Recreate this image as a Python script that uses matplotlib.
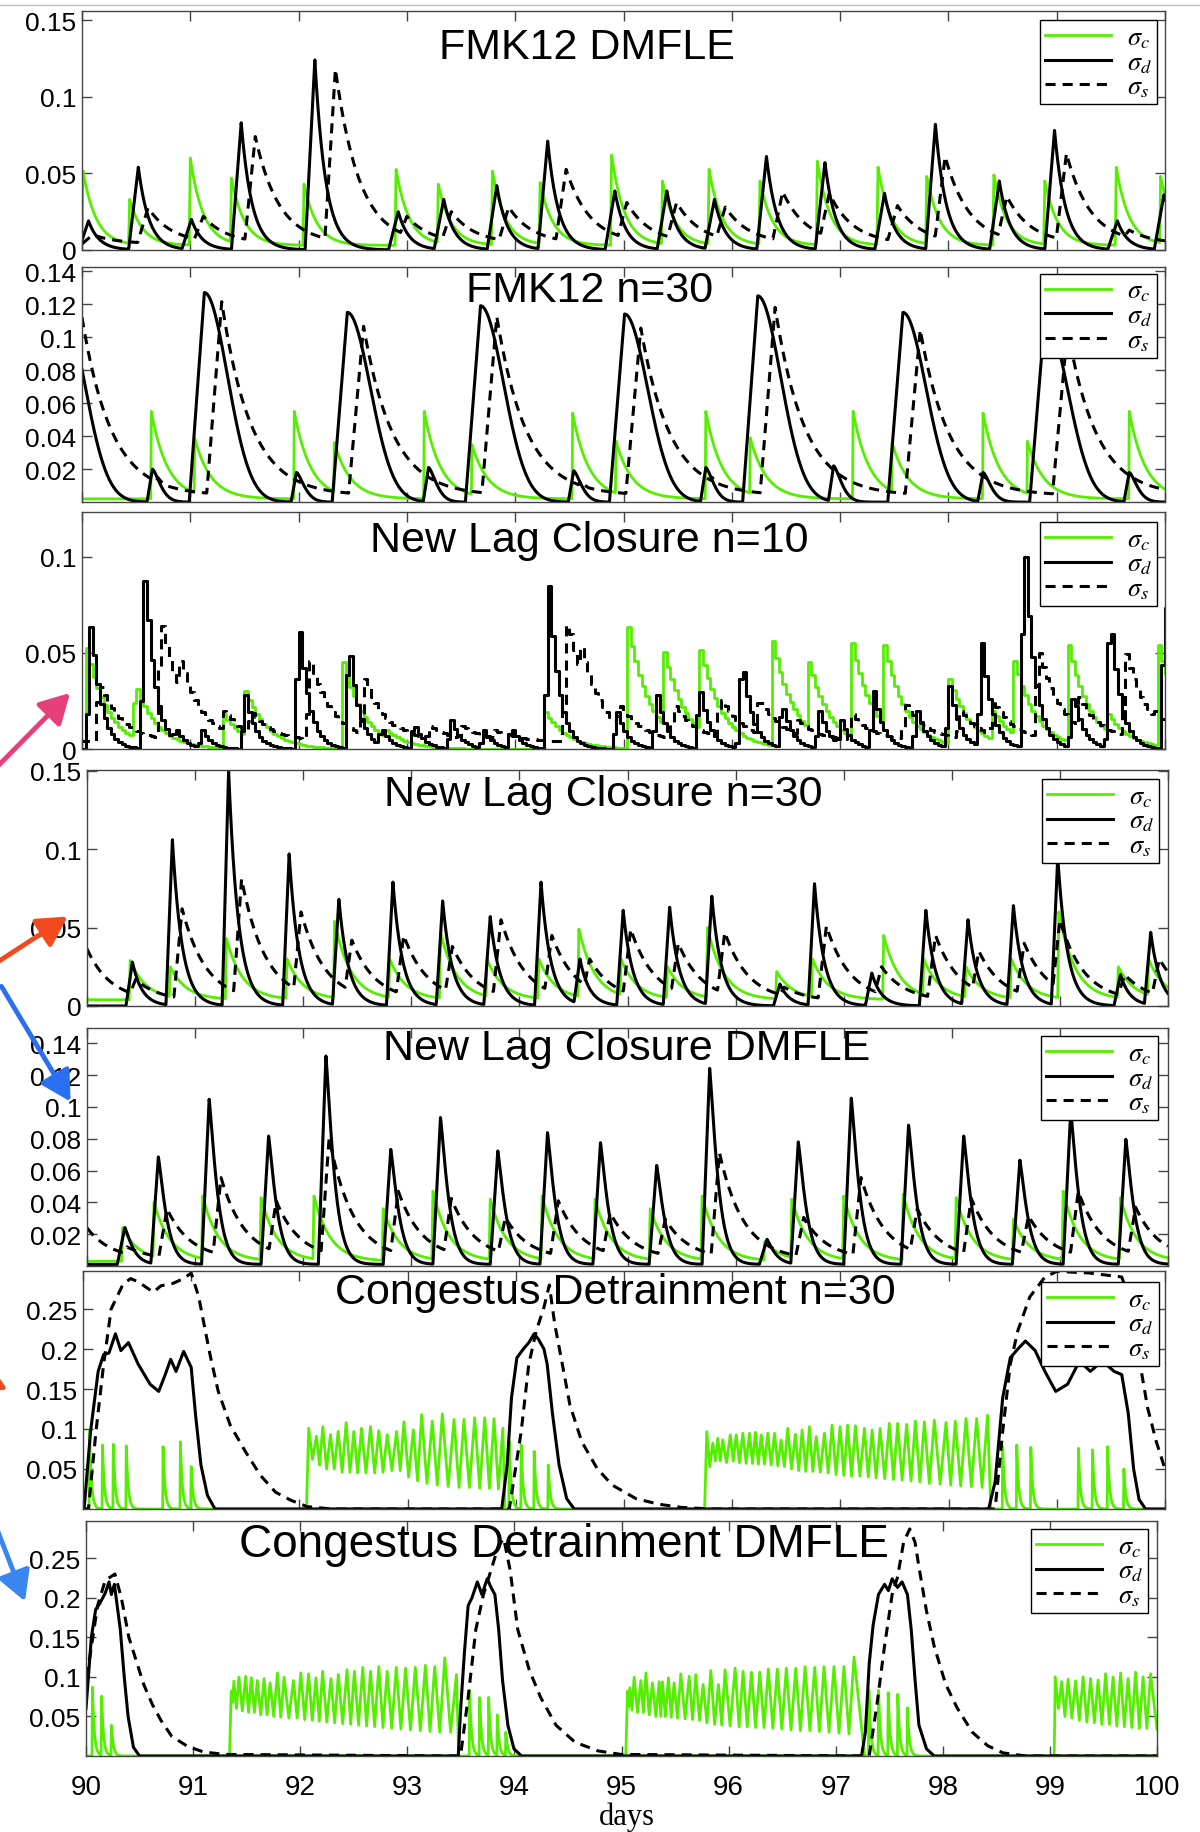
import numpy as np
import matplotlib
matplotlib.use("Agg")
import matplotlib.pyplot as plt
from matplotlib.lines import Line2D
from matplotlib.patches import FancyArrowPatch

plt.rcParams['font.family'] = ['Liberation Sans', 'DejaVu Sans']
plt.rcParams['mathtext.fontset'] = 'stix'

W, H = 1200, 1833
GREEN = '#55ee00'

# ------------------------------------------------------------------
# data (days, sigma values)
# spike panels: peak time + peak height for each series
# ------------------------------------------------------------------
# 1) FMK12 DMFLE
p1_c_t = [90.01, 90.44, 91.0, 91.38, 92.05, 92.9, 93.29, 93.79, 94.23, 94.89,
          95.36, 95.79, 96.26, 96.79, 97.35, 97.8, 98.42, 98.89, 99.55, 99.96]
p1_c_h = [0.0515, 0.033, 0.06, 0.047, 0.043, 0.0526, 0.043, 0.0515, 0.044, 0.062,
          0.045, 0.0526, 0.045, 0.058, 0.054, 0.048, 0.049, 0.045, 0.054, 0.048]
p1_d_t = [90.06, 90.52, 91.01, 91.47, 92.15, 92.92, 93.34, 93.83, 94.3, 94.92,
          95.4, 95.84, 96.32, 96.86, 97.41, 97.88, 98.47, 98.98, 99.56, 99.99]
p1_d_h = [0.019, 0.054, 0.02, 0.083, 0.124, 0.025, 0.033, 0.042, 0.071, 0.0385,
          0.0385, 0.033, 0.061, 0.057, 0.037, 0.082, 0.045, 0.078, 0.019, 0.036]
p1_s_t = [90.1, 90.61, 91.12, 91.6, 92.34, 93.0, 93.41, 93.94, 94.47, 95.03,
          95.49, 95.94, 96.47, 96.9, 97.53, 97.97, 98.54, 99.09, 99.67]
p1_s_h = [0.01, 0.0276, 0.022, 0.074, 0.118, 0.022, 0.025, 0.028, 0.0526, 0.031,
          0.031, 0.028, 0.038, 0.037, 0.029, 0.061, 0.035, 0.063, 0.013]

# 2) FMK12 n=30
p2_c_t = [90.64, 91.04, 91.96, 92.33, 93.16, 93.6, 94.53, 94.93, 95.76, 96.17,
          97.12, 97.48, 98.32, 98.73, 99.67]
p2_c_h = [0.055, 0.039, 0.055, 0.036, 0.055, 0.035, 0.054, 0.037, 0.055, 0.039,
          0.055, 0.036, 0.054, 0.037, 0.055]
p2_d_big_t = [89.81, 91.13, 92.45, 93.68, 95.01, 96.24, 97.58, 98.89]
p2_d_big_h = [0.12, 0.127, 0.115, 0.119, 0.114, 0.125, 0.115, 0.112]
p2_d_small_t = [90.65, 91.98, 93.2, 94.54, 95.76, 96.94, 98.32, 99.67]
p2_d_small_h = [0.02, 0.018, 0.021, 0.019, 0.021, 0.022, 0.018, 0.018]
p2_s_big_t = [90.0, 91.29, 92.6, 93.83, 95.16, 96.4, 97.74, 99.1]
p2_s_big_h = [0.112, 0.1215, 0.1066, 0.1125, 0.1055, 0.118, 0.1045, 0.105]
p2_s_small_t = [90.7, 92.02, 93.25, 94.6, 95.82, 97.0, 98.37, 99.72]
p2_s_small_h = [0.015, 0.013, 0.015, 0.013, 0.015, 0.014, 0.012, 0.013]

# 3) New Lag Closure n=10
p3_c_t = [90.01, 90.47, 91.29, 91.49, 92.38, 92.8, 94.25, 95.02, 95.35, 95.69,
          96.36, 96.68, 97.1, 97.4, 98.0, 98.4, 98.6, 99.1, 99.45, 99.92]
p3_c_h = [0.059, 0.036, 0.019, 0.032, 0.05, 0.01, 0.021, 0.068, 0.055, 0.054,
          0.058, 0.05, 0.055, 0.054, 0.0365, 0.02, 0.046, 0.054, 0.02, 0.058]
p3_d_t = [90.07, 90.57, 90.85, 91.1, 91.5, 91.99, 92.45, 92.75, 93.05, 93.4,
          93.7, 93.95, 94.3, 94.93, 95.3, 95.69, 96.08, 96.45, 96.8, 97.0,
          97.3, 97.7, 98.0, 98.3, 98.69, 99.14, 99.48, 99.99]
p3_d_h = [0.068, 0.094, 0.012, 0.01, 0.028, 0.068, 0.058, 0.012, 0.014, 0.015,
          0.01, 0.012, 0.085, 0.02, 0.028, 0.033, 0.05, 0.025, 0.02, 0.015,
          0.03, 0.02, 0.033, 0.055, 0.112, 0.03, 0.075, 0.082]
p3_s_t = [90.15, 90.72, 90.9, 91.3, 91.55, 92.1, 92.6, 92.9, 93.2, 93.5,
          93.8, 94.47, 94.6, 94.95, 95.46, 95.88, 96.24, 96.6, 97.1, 97.6,
          98.1, 98.4, 98.82, 99.2, 99.63, 99.9]
p3_s_h = [0.035, 0.068, 0.046, 0.02, 0.02, 0.046, 0.0365, 0.012, 0.012, 0.012,
          0.01, 0.069, 0.053, 0.024, 0.023, 0.028, 0.027, 0.015, 0.018, 0.023,
          0.02, 0.025, 0.053, 0.027, 0.05, 0.02]

# 4) New Lag Closure n=30
p4_c_t = [90.4, 90.77, 91.29, 91.85, 92.29, 92.8, 93.27, 93.7, 94.18, 94.55,
          94.94, 95.37, 95.74, 96.38, 96.71, 97.37, 97.74, 98.13, 98.55, 98.99,
          99.54, 99.82]
p4_c_h = [0.029, 0.025, 0.043, 0.03, 0.054, 0.03, 0.047, 0.03, 0.03, 0.049,
          0.03, 0.025, 0.05, 0.022, 0.03, 0.045, 0.03, 0.025, 0.03, 0.06,
          0.025, 0.03]
p4_d_t = [90.42, 90.79, 91.31, 91.87, 92.33, 92.83, 93.29, 93.73, 94.2, 94.56,
          94.96, 95.39, 95.78, 96.41, 96.73, 97.26, 97.76, 98.15, 98.57, 98.98,
          99.56, 99.84]
p4_d_h = [0.028, 0.106, 0.15, 0.097, 0.068, 0.079, 0.067, 0.057, 0.079, 0.03,
          0.061, 0.063, 0.07, 0.014, 0.078, 0.021, 0.061, 0.055, 0.064, 0.095,
          0.02, 0.047]
p4_s_t = [89.95, 90.45, 90.88, 91.43, 91.98, 92.45, 92.93, 93.38, 93.83, 94.3,
          94.65, 95.03, 95.47, 95.9, 96.45, 96.84, 97.35, 97.85, 98.25, 98.67,
          99.0, 99.6, 99.92]
p4_s_h = [0.045, 0.017, 0.062, 0.081, 0.06, 0.042, 0.045, 0.038, 0.055, 0.045,
          0.03, 0.049, 0.04, 0.047, 0.012, 0.051, 0.025, 0.045, 0.035, 0.04,
          0.055, 0.02, 0.03]

# 5) New Lag Closure DMFLE
p5_c_t = [90.33, 90.62, 91.07, 91.61, 92.1, 92.74, 93.2, 93.73, 94.21, 94.7,
          95.21, 95.69, 96.27, 96.52, 97.0, 97.55, 98.04, 98.57, 99.03, 99.56]
p5_c_h = [0.024, 0.04, 0.044, 0.043, 0.044, 0.036, 0.047, 0.042, 0.044, 0.042,
          0.036, 0.044, 0.0155, 0.042, 0.044, 0.045, 0.043, 0.0294, 0.047, 0.043]
p5_d_t = [90.35, 90.66, 91.13, 91.68, 92.21, 92.81, 93.27, 93.8, 94.26, 94.75,
          95.27, 95.76, 96.29, 96.58, 97.07, 97.6, 98.11, 98.63, 99.1, 99.61]
p5_d_h = [0.0242, 0.0686, 0.1048, 0.0817, 0.132, 0.0733, 0.0933, 0.0723, 0.0838, 0.0775,
          0.0632, 0.1242, 0.0168, 0.078, 0.1055, 0.0885, 0.0817, 0.0665, 0.0975, 0.0796]
p5_s_t = [90.0, 90.37, 90.74, 91.24, 91.75, 92.24, 92.88, 93.37, 93.87, 94.36,
          94.84, 95.35, 95.85, 96.35, 96.63, 97.16, 97.68, 98.18, 98.71, 99.17, 99.7]
p5_s_h = [0.024, 0.012, 0.036, 0.0556, 0.041, 0.0806, 0.047, 0.0425, 0.0305, 0.041,
          0.0335, 0.0294, 0.0714, 0.01, 0.0305, 0.0556, 0.036, 0.0425, 0.0315, 0.047, 0.037]

# 6) Congestus Detrainment n=30 : black / dashed as vertices
p6_d_t = [90.0, 90.01, 90.07, 90.14, 90.19, 90.24, 90.3, 90.35, 90.42, 90.51,
          90.62, 90.7, 90.76, 90.81, 90.86, 90.93, 91.0, 91.04, 91.09, 91.15, 91.22,
          93.87, 93.92, 93.96, 94.01, 94.07, 94.12, 94.17, 94.21, 94.26, 94.29,
          94.34, 94.4, 94.47, 94.54,
          98.37, 98.43, 98.5, 98.57, 98.64, 98.71, 98.8, 98.89, 98.99, 99.1,
          99.21, 99.31, 99.42, 99.53, 99.6, 99.66, 99.71, 99.76, 99.82, 100.0]
p6_d_v = [0, 0, 0.097, 0.172, 0.193, 0.195, 0.219, 0.198, 0.208, 0.181,
          0.156, 0.147, 0.168, 0.187, 0.172, 0.197, 0.177, 0.118, 0.055, 0.017, 0.0,
          0.0, 0.055, 0.139, 0.189, 0.2, 0.208, 0.219, 0.212, 0.2, 0.181,
          0.118, 0.055, 0.013, 0.0,
          0.0, 0.034, 0.139, 0.189, 0.2, 0.21, 0.198, 0.172, 0.147, 0.156,
          0.185, 0.172, 0.185, 0.172, 0.168, 0.12, 0.05, 0.012, 0.0, 0.0]
p6_s_t = [90.0, 90.05, 90.12, 90.19, 90.26, 90.37, 90.44, 90.51, 90.65, 90.72,
          90.83, 90.93, 91.0, 91.07, 91.13, 91.18, 91.25, 91.36, 91.5, 91.64,
          91.78, 91.92, 92.07, 92.3,
          93.94, 94.05, 94.12, 94.19, 94.26, 94.31, 94.36, 94.43, 94.5, 94.61,
          94.75, 94.89, 95.11, 95.32, 95.53, 95.8,
          98.43, 98.5, 98.57, 98.64, 98.75, 98.89, 99.0, 99.3, 99.6, 99.7,
          99.77, 99.84, 99.92, 100.0]
p6_s_v = [0.0, 0.0, 0.097, 0.18, 0.25, 0.281, 0.288, 0.284, 0.271, 0.279,
          0.282, 0.288, 0.295, 0.265, 0.223, 0.189, 0.147, 0.105, 0.072, 0.042,
          0.021, 0.011, 0.003, 0.0,
          0.0, 0.097, 0.181, 0.223, 0.252, 0.28, 0.231, 0.181, 0.13, 0.084,
          0.051, 0.03, 0.013, 0.006, 0.002, 0.0,
          0.0, 0.097, 0.181, 0.223, 0.265, 0.29, 0.297, 0.295, 0.29, 0.252,
          0.181, 0.126, 0.084, 0.05]
p6_c_t = [90.06, 90.18, 90.28, 90.4, 90.74, 90.9, 91.0, 93.94, 94.05, 94.17,
          94.3, 98.5, 98.63, 98.76, 99.2, 99.33, 99.47, 99.62]
p6_c_h = [0.098, 0.08, 0.081, 0.079, 0.078, 0.084, 0.053, 0.084, 0.08, 0.072,
          0.055, 0.078, 0.08, 0.077, 0.076, 0.074, 0.078, 0.05]
# oscillating sigma_c stretches: start, end, peak times, peak / trough values
p6_osc1_span = (92.065, 93.9)
p6_osc1_t = [92.086, 92.157, 92.216, 92.287, 92.358, 92.432, 92.503, 92.574, 92.657, 92.734,
             92.812, 92.898, 92.966, 93.053, 93.13, 93.228, 93.321, 93.429, 93.521, 93.62,
             93.713, 93.799, 93.88]
p6_osc1_hi = [0.101, 0.091, 0.103, 0.093, 0.097, 0.108, 0.097, 0.101, 0.103, 0.098,
              0.093, 0.097, 0.109, 0.099, 0.118, 0.11, 0.119, 0.112, 0.112, 0.114,
              0.114, 0.113, 0.101]
p6_osc1_lo = [0.062, 0.055, 0.05, 0.05, 0.046, 0.046, 0.045, 0.045, 0.045, 0.046,
              0.048, 0.048, 0.04, 0.035, 0.032, 0.03, 0.028, 0.027, 0.027, 0.026,
              0.026, 0.025, 0.0]
p6_osc2_span = (95.745, 98.39)
p6_osc2_t = [95.765, 95.821, 95.867, 95.913, 95.982, 96.037, 96.098, 96.16, 96.215, 96.268,
             96.329, 96.391, 96.452, 96.513, 96.584, 96.646, 96.714, 96.776, 96.852, 96.923,
             96.997, 97.067, 97.139, 97.222, 97.293, 97.367, 97.452, 97.529, 97.612, 97.693,
             97.776, 97.868, 97.976, 98.062, 98.161, 98.259, 98.36]
p6_osc2_hi = [0.0967, 0.0823, 0.0885, 0.0864, 0.0926, 0.0926, 0.0947, 0.0947, 0.0959, 0.0926,
              0.0947, 0.0947, 0.0864, 0.1008, 0.0934, 0.0988, 0.1029, 0.0905, 0.0947, 0.1049,
              0.1029, 0.1049, 0.1041, 0.1008, 0.0988, 0.1008, 0.107, 0.107, 0.1058, 0.1099,
              0.109, 0.111, 0.1082, 0.1099, 0.1132, 0.1132, 0.1173]
p6_osc2_lo = [0.053, 0.06, 0.06, 0.058, 0.06, 0.058, 0.057, 0.057, 0.056, 0.056,
              0.055, 0.054, 0.053, 0.05, 0.048, 0.047, 0.047, 0.046, 0.045, 0.043,
              0.042, 0.041, 0.041, 0.04, 0.039, 0.038, 0.037, 0.036, 0.035, 0.034,
              0.032, 0.031, 0.03, 0.029, 0.028, 0.027, 0.0]

# 7) Congestus Detrainment DMFLE
p7_d_t = [90.0, 90.05, 90.09, 90.13, 90.18, 90.215, 90.237, 90.265, 90.32, 90.357,
          90.393, 90.443, 90.5,
          93.476, 93.497, 93.533, 93.568, 93.604, 93.654, 93.697, 93.746, 93.782, 93.818,
          93.853, 93.889, 93.939, 93.996, 94.067,
          97.241, 97.277, 97.313, 97.349, 97.399, 97.456, 97.492, 97.527, 97.577, 97.62,
          97.67, 97.705, 97.741, 97.777, 97.848, 97.92, 100.0]
p7_d_v = [0.06, 0.15, 0.185, 0.193, 0.206, 0.22, 0.204, 0.217, 0.16, 0.1,
          0.05, 0.011, 0.0,
          0.0, 0.057, 0.13, 0.19, 0.2, 0.22, 0.204, 0.224, 0.213, 0.204,
          0.16, 0.096, 0.039, 0.009, 0.0,
          0.0, 0.03, 0.117, 0.165, 0.204, 0.217, 0.209, 0.224, 0.213, 0.22,
          0.204, 0.16, 0.096, 0.039, 0.009, 0.0, 0.0]
p7_s_t = [90.0, 90.037, 90.108, 90.18, 90.27, 90.33, 90.4, 90.47, 90.54, 90.62,
          90.7, 90.8, 90.95, 91.1, 91.3,
          93.497, 93.568, 93.64, 93.711, 93.782, 93.85, 93.9, 93.96, 94.031, 94.138,
          94.245, 94.388, 94.566, 94.78, 94.994,
          97.313, 97.385, 97.456, 97.527, 97.577, 97.634, 97.691, 97.741, 97.777, 97.848,
          97.919, 98.026, 98.133, 98.276, 98.419, 98.561, 98.775, 100.0]
p7_s_v = [0.1, 0.126, 0.19, 0.222, 0.23, 0.2, 0.15, 0.12, 0.09, 0.065,
          0.045, 0.025, 0.012, 0.005, 0.002,
          0.0, 0.074, 0.16, 0.204, 0.235, 0.265, 0.275, 0.235, 0.16, 0.109,
          0.074, 0.039, 0.0174, 0.0065, 0.002,
          0.0, 0.065, 0.139, 0.204, 0.226, 0.27, 0.287, 0.27, 0.239, 0.183,
          0.139, 0.091, 0.061, 0.03, 0.013, 0.004, 0.0, 0.0]
p7_c_t = [90.06, 90.145, 90.237, 93.582, 93.675, 93.76, 93.84, 93.92,
          97.31, 97.4, 97.49, 97.58, 97.67]
p7_c_h = [0.087, 0.08, 0.041, 0.083, 0.078, 0.074, 0.052, 0.03,
          0.083, 0.083, 0.08, 0.078, 0.061]
p7_osc1_span = (91.34, 93.48)
p7_osc1_t = [91.356, 91.381, 91.428, 91.491, 91.544, 91.6, 91.663, 91.719, 91.787, 91.85,
             91.937, 92.006, 92.078, 92.147, 92.209, 92.287, 92.356, 92.437, 92.506, 92.584,
             92.656, 92.734, 92.812, 92.897, 92.984, 93.075, 93.169, 93.256, 93.35, 93.459]
p7_osc1_hi = [0.082, 0.0946, 0.0996, 0.1008, 0.0988, 0.0954, 0.098, 0.0925, 0.105, 0.0996,
              0.0954, 0.105, 0.1038, 0.0988, 0.107, 0.098, 0.1029, 0.109, 0.107, 0.112,
              0.107, 0.113, 0.107, 0.112, 0.111, 0.112, 0.1146, 0.113, 0.124, 0.103]
p7_osc1_lo = [0.068, 0.06, 0.057, 0.055, 0.055, 0.052, 0.052, 0.05, 0.049, 0.048,
              0.048, 0.046, 0.045, 0.044, 0.043, 0.042, 0.041, 0.04, 0.039, 0.038,
              0.037, 0.036, 0.035, 0.034, 0.033, 0.032, 0.031, 0.03, 0.03, 0.0]
p7_osc2_span = (95.04, 97.27)
p7_osc2_t = [95.056, 95.078, 95.118, 95.181, 95.228, 95.289, 95.352, 95.382, 95.438, 95.491,
             95.554, 95.632, 95.694, 95.762, 95.834, 95.905, 95.967, 96.061, 96.135, 96.213,
             96.291, 96.371, 96.455, 96.539, 96.627, 96.714, 96.804, 96.891, 96.984, 97.077,
             97.171]
p7_osc2_hi = [0.082, 0.0863, 0.0996, 0.0954, 0.105, 0.0925, 0.0938, 0.0938, 0.0988, 0.0925,
              0.1038, 0.1008, 0.1029, 0.0904, 0.108, 0.0904, 0.109, 0.111, 0.107, 0.106,
              0.106, 0.11, 0.11, 0.111, 0.111, 0.113, 0.112, 0.113, 0.113, 0.113,
              0.125]
p7_osc2_lo = [0.062, 0.058, 0.055, 0.055, 0.052, 0.05, 0.05, 0.05, 0.049, 0.048,
              0.047, 0.046, 0.045, 0.042, 0.04, 0.039, 0.038, 0.037, 0.037, 0.036,
              0.036, 0.035, 0.034, 0.033, 0.032, 0.032, 0.031, 0.03, 0.029, 0.028,
              0.0]
p7_osc3_span = (99.04, 100.0)
p7_osc3_t = [99.05, 99.11, 99.17, 99.24, 99.31, 99.38, 99.45, 99.52, 99.59, 99.66,
             99.73, 99.8, 99.87, 99.94]
p7_osc3_hi = [0.1, 0.094, 0.097, 0.095, 0.1, 0.098, 0.096, 0.104, 0.1, 0.105,
              0.098, 0.106, 0.1, 0.104]
p7_osc3_lo = [0.06, 0.05, 0.048, 0.045, 0.043, 0.042, 0.04, 0.04, 0.038, 0.037,
              0.036, 0.035, 0.035, 0.034]

titles = ['FMK12 DMFLE', 'FMK12 n=30', 'New Lag Closure n=10', 'New Lag Closure n=30',
          'New Lag Closure DMFLE', 'Congestus Detrainment n=30',
          'Congestus Detrainment DMFLE']
day_ticks = list(range(90, 101))
labels = [r'$\sigma_c$', r'$\sigma_d$', r'$\sigma_s$']


# ------------------------------------------------------------------
def pulses(t, times, heights, rise, tau, p=1.0, floor=0.0):
    """each event: linear rise to the peak, then decay back to floor"""
    y = np.full_like(t, floor)
    for tp, h in zip(times, heights):
        s = np.zeros_like(t)
        up = (t >= tp - rise) & (t <= tp)
        s[up] = floor + (h - floor) * (t[up] - (tp - rise)) / rise
        dn = t > tp
        s[dn] = floor + (h - floor) * np.exp(-((t[dn] - tp) / tau) ** p)
        y = np.maximum(y, s)
    return y


def zigzag(span, peak_t, hi, lo):
    xs, ys = [span[0]], [0.0]
    for i in range(len(peak_t)):
        xs.append(peak_t[i])
        ys.append(hi[i])
        nxt = peak_t[i + 1] if i + 1 < len(peak_t) else 2 * span[1] - peak_t[i]
        xs.append(min(0.5 * (peak_t[i] + nxt), span[1]))
        ys.append(lo[i])
    return xs, ys


def px_rect(x0, x1, y0, y1):
    return [x0 / W, 1 - y1 / H, (x1 - x0) / W, (y1 - y0) / H]


t = np.arange(89.5, 100.0005, 0.002)
t3 = np.arange(89.5, 100.04, 1 / 30)

fig = plt.figure(figsize=(W / 100, H / 100), dpi=100)

rects = [px_rect(82, 1165, 12, 251), px_rect(82, 1165, 268, 503),
         px_rect(82, 1165, 513, 750), px_rect(87, 1168, 771, 1007),
         px_rect(87, 1168, 1029, 1267), px_rect(83, 1165, 1272, 1510),
         px_rect(86, 1157, 1522, 1757)]
ylims = [(0, 0.1559), (0.0001, 0.1425), (0, 0.1234), (0, 0.1505),
         (0.0, 0.1496), (0, 0.2975), (0, 0.297)]
yticks = [[0, 0.05, 0.1, 0.15], [0.02, 0.04, 0.06, 0.08, 0.1, 0.12, 0.14],
          [0, 0.05, 0.1], [0, 0.05, 0.1, 0.15],
          [0.02, 0.04, 0.06, 0.08, 0.1, 0.12, 0.14],
          [0.05, 0.1, 0.15, 0.2, 0.25], [0.05, 0.1, 0.15, 0.2, 0.25]]
title_pos = [(0.466, 0.85, 31), (0.469, 0.9, 31), (0.468, 0.88, 31), (0.478, 0.9, 31),
             (0.499, 0.915, 31), (0.492, 0.91, 31), (0.446, 0.9, 33)]
legend_pos = [(0.9926, 0.962), (0.9926, 0.972), (0.9926, 0.958), (0.9917, 0.962),
              (0.991, 0.966), (0.994, 0.954), (0.9916, 0.966)]

kw_c = dict(color=GREEN, lw=2.0)
kw_d = dict(color='black', lw=2.2)
kw_s = dict(color='black', lw=2.2, dashes=(3.3, 2.3))

axes = [fig.add_axes(r) for r in rects]

# panel 1
ax = axes[0]
ax.plot(t, pulses(t, p1_c_t, p1_c_h, 0.01, 0.12, floor=0.003), **kw_c)
ax.plot(t, pulses(t, p1_d_t, p1_d_h, 0.09, 0.1), **kw_d)
ax.plot(t, pulses(t, p1_s_t, p1_s_h, 0.1, 0.22, floor=0.004), **kw_s)

# panel 2
ax = axes[1]
ax.plot(t, pulses(t, p2_c_t, p2_c_h, 0.005, 0.15, floor=0.002), **kw_c)
d2 = np.maximum(pulses(t, p2_d_big_t, p2_d_big_h, 0.14, 0.3, p=2),
                pulses(t, p2_d_small_t, p2_d_small_h, 0.05, 0.1, p=1.5))
ax.plot(t, d2, **kw_d)
s2 = np.maximum(pulses(t, p2_s_big_t, p2_s_big_h, 0.14, 0.27, floor=0.004),
                pulses(t, p2_s_small_t, p2_s_small_h, 0.05, 0.12, floor=0.004))
ax.plot(t, s2, **kw_s)

# panel 3 (stair-step output)
ax = axes[2]
ax.plot(t3, pulses(t3, p3_c_t, p3_c_h, 0.01, 0.2), drawstyle='steps-post', **kw_c)
ax.plot(t3, pulses(t3, p3_d_t, p3_d_h, 0.05, 0.09), drawstyle='steps-post', **kw_d)
ax.plot(t3, pulses(t3, p3_s_t, p3_s_h, 0.05, 0.2, floor=0.004), drawstyle='steps-post', **kw_s)

# panel 4
ax = axes[3]
ax.plot(t, pulses(t, p4_c_t, p4_c_h, 0.01, 0.15, floor=0.004), **kw_c)
ax.plot(t, pulses(t, p4_d_t, p4_d_h, 0.06, 0.09), **kw_d)
ax.plot(t, pulses(t, p4_s_t, p4_s_h, 0.08, 0.22, floor=0.003), **kw_s)

# panel 5
ax = axes[4]
ax.plot(t, pulses(t, p5_c_t, p5_c_h, 0.01, 0.15, floor=0.003), **kw_c)
ax.plot(t, pulses(t, p5_d_t, p5_d_h, 0.07, 0.09, p=1.2, floor=0.001), **kw_d)
ax.plot(t, pulses(t, p5_s_t, p5_s_h, 0.08, 0.22, floor=0.004), **kw_s)

# panel 6
ax = axes[5]
ax.plot(t, pulses(t, p6_c_t, p6_c_h, 0.004, 0.018), **kw_c)
for span, pt, hi, lo in [(p6_osc1_span, p6_osc1_t, p6_osc1_hi, p6_osc1_lo),
                         (p6_osc2_span, p6_osc2_t, p6_osc2_hi, p6_osc2_lo)]:
    xs, ys = zigzag(span, pt, hi, lo)
    ax.plot(xs, ys, **kw_c)
ax.plot(p6_d_t, p6_d_v, **kw_d)
ax.plot(p6_s_t, p6_s_v, **kw_s)

# panel 7
ax = axes[6]
ax.plot(t, pulses(t, p7_c_t, p7_c_h, 0.004, 0.018), **kw_c)
for span, pt, hi, lo in [(p7_osc1_span, p7_osc1_t, p7_osc1_hi, p7_osc1_lo),
                         (p7_osc2_span, p7_osc2_t, p7_osc2_hi, p7_osc2_lo),
                         (p7_osc3_span, p7_osc3_t, p7_osc3_hi, p7_osc3_lo)]:
    xs, ys = zigzag(span, pt, hi, lo)
    ax.plot(xs, ys, **kw_c)
ax.plot(p7_d_t, p7_d_v, **kw_d)
ax.plot(p7_s_t, p7_s_v, **kw_s)

handles = [Line2D([], [], **kw_c), Line2D([], [], **kw_d), Line2D([], [], **kw_s)]

for i, ax in enumerate(axes):
    ax.set_xlim(90, 100)
    ax.set_ylim(*ylims[i])
    ax.set_xticks(day_ticks)
    ax.set_yticks(yticks[i])
    ax.set_yticklabels([f'{v:g}' for v in yticks[i]])
    ax.tick_params(direction='in', top=True, right=True, length=7, width=1,
                   labelsize=19, pad=4, color='#444444')
    for sp in ax.spines.values():
        sp.set_linewidth(1.0)
        sp.set_color('#444444')
    if i < 6:
        ax.set_xticklabels([])
    else:
        ax.set_xticklabels([str(d) for d in day_ticks])
        ax.tick_params(axis='x', pad=13, labelsize=20)
    tx, ty, fs = title_pos[i]
    ax.text(tx, ty, titles[i], transform=ax.transAxes, ha='center', va='center',
            fontsize=fs, zorder=6)
    lx, ly = legend_pos[i]
    leg = ax.legend(handles, labels, loc='upper right', bbox_to_anchor=(lx, ly),
                    borderaxespad=0, fontsize=19, handlelength=2.5,
                    handletextpad=0.6, labelspacing=0.0, borderpad=0.2,
                    fancybox=False, framealpha=1, edgecolor='black')
    leg.get_frame().set_linewidth(1.0)

fig.text(627 / W, 1 - 1817 / H, 'days', family='Liberation Serif', fontsize=22,
         ha='center', va='center')

# screenshot border line and the hand-drawn arrows on the left
fig.add_artist(Line2D([0, 1], [1 - 6 / H, 1 - 6 / H], transform=fig.transFigure,
                      color='#bbbbbb', lw=1))
arrows = [((-10, 775), (72, 692), '#e6407a'),
          ((-10, 968), (70, 916), '#f04a1e'),
          ((0, 985), (72, 1105), '#2a6ff0'),
          ((-30, 1372), (10, 1392), '#f04a1e'),
          ((-5, 1525), (26, 1605), '#3a86f0')]
for (x0, y0), (x1, y1), col in arrows:
    fig.add_artist(FancyArrowPatch((x0 / W, 1 - y0 / H), (x1 / W, 1 - y1 / H),
                                   transform=fig.transFigure,
                                   arrowstyle='-|>,head_length=0.9,head_width=0.5',
                                   mutation_scale=20, lw=3.5, color=col))

fig.savefig('out.png', dpi=100)
